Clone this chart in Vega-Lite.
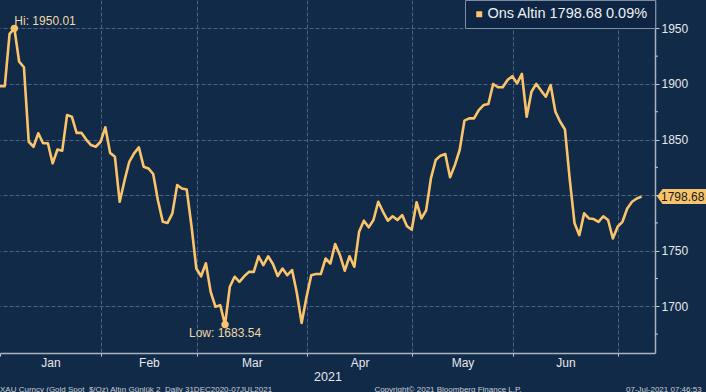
{
  "$schema": "https://vega.github.io/schema/vega-lite/v6.json",
  "width": 655,
  "height": 353,
  "autosize": {"type": "none"},
  "padding": {"left": 0, "top": 0, "right": 51, "bottom": 39},
  "background": "#102a48",
  "config": {"view": {"stroke": null}, "font": "Liberation Sans"},
  "title": {
    "text": "\u00a0XAU Curncy (Gold Spot \u00a0$/Oz) Altın Günlük 2 \u00a0Daily 31DEC2020-07JUL2021\u00a0\u00a0\u00a0\u00a0\u00a0\u00a0\u00a0\u00a0\u00a0\u00a0\u00a0\u00a0\u00a0\u00a0\u00a0\u00a0\u00a0\u00a0\u00a0\u00a0\u00a0\u00a0\u00a0\u00a0\u00a0\u00a0\u00a0\u00a0\u00a0\u00a0\u00a0\u00a0\u00a0\u00a0\u00a0\u00a0\u00a0\u00a0\u00a0\u00a0\u00a0\u00a0\u00a0\u00a0\u00a0\u00a0Copyright© 2021 Bloomberg Finance L.P.\u00a0\u00a0\u00a0\u00a0\u00a0\u00a0\u00a0\u00a0\u00a0\u00a0\u00a0\u00a0\u00a0\u00a0\u00a0\u00a0\u00a0\u00a0\u00a0\u00a0\u00a0\u00a0\u00a0\u00a0\u00a0\u00a0\u00a0\u00a0\u00a0\u00a0\u00a0\u00a0\u00a0\u00a0\u00a0\u00a0\u00a0\u00a0\u00a0\u00a0\u00a0\u00a0\u00a0\u00a0\u00a0\u00a0\u00a007-Jul-2021 07:46:53",
    "orient": "bottom",
    "anchor": "start",
    "frame": "group",
    "fontSize": 8,
    "fontWeight": "normal",
    "color": "#c9ced6",
    "font": "Liberation Sans",
    "offset": 3
  },
  "datasets": {
    "gold": [
      {"t": 0, "v": 1898}, {"t": 1, "v": 1898}, {"t": 2, "v": 1945}, {"t": 3, "v": 1950.01},
      {"t": 4, "v": 1920}, {"t": 5, "v": 1915}, {"t": 6, "v": 1848}, {"t": 7, "v": 1843.5},
      {"t": 8, "v": 1855.6}, {"t": 9, "v": 1846.6}, {"t": 10, "v": 1846.6}, {"t": 11, "v": 1828.6},
      {"t": 12, "v": 1841}, {"t": 13, "v": 1840}, {"t": 14, "v": 1872}, {"t": 15, "v": 1870.5},
      {"t": 16, "v": 1856}, {"t": 17, "v": 1856}, {"t": 18, "v": 1850}, {"t": 19, "v": 1845},
      {"t": 20, "v": 1843.5}, {"t": 21, "v": 1848}, {"t": 22, "v": 1861}, {"t": 23, "v": 1838},
      {"t": 24, "v": 1834.5}, {"t": 25, "v": 1794}, {"t": 26, "v": 1813}, {"t": 27, "v": 1830},
      {"t": 28, "v": 1837.6}, {"t": 29, "v": 1843}, {"t": 30, "v": 1825.6}, {"t": 31, "v": 1824},
      {"t": 32, "v": 1819}, {"t": 33, "v": 1795}, {"t": 34, "v": 1776}, {"t": 35, "v": 1775},
      {"t": 36, "v": 1783.6}, {"t": 37, "v": 1809}, {"t": 38, "v": 1806}, {"t": 39, "v": 1805},
      {"t": 40, "v": 1772}, {"t": 41, "v": 1734}, {"t": 42, "v": 1727}, {"t": 43, "v": 1738.7},
      {"t": 44, "v": 1713}, {"t": 45, "v": 1699.6}, {"t": 46, "v": 1701}, {"t": 47, "v": 1683.54},
      {"t": 48, "v": 1717.6}, {"t": 49, "v": 1726.6}, {"t": 50, "v": 1722}, {"t": 51, "v": 1727},
      {"t": 52, "v": 1731}, {"t": 53, "v": 1731}, {"t": 54, "v": 1745}, {"t": 55, "v": 1737},
      {"t": 56, "v": 1745}, {"t": 57, "v": 1738}, {"t": 58, "v": 1727.3}, {"t": 59, "v": 1734},
      {"t": 60, "v": 1728}, {"t": 61, "v": 1732.6}, {"t": 62, "v": 1712}, {"t": 63, "v": 1685},
      {"t": 64, "v": 1708}, {"t": 65, "v": 1728}, {"t": 66, "v": 1729}, {"t": 67, "v": 1729},
      {"t": 68, "v": 1743}, {"t": 69, "v": 1738.5}, {"t": 70, "v": 1756}, {"t": 71, "v": 1746},
      {"t": 72, "v": 1732}, {"t": 73, "v": 1745}, {"t": 74, "v": 1735.6}, {"t": 75, "v": 1767},
      {"t": 76, "v": 1777}, {"t": 77, "v": 1771}, {"t": 78, "v": 1777.6}, {"t": 79, "v": 1794},
      {"t": 80, "v": 1785}, {"t": 81, "v": 1777}, {"t": 82, "v": 1781}, {"t": 83, "v": 1777.6},
      {"t": 84, "v": 1782}, {"t": 85, "v": 1772}, {"t": 86, "v": 1769}, {"t": 87, "v": 1793.6},
      {"t": 88, "v": 1779}, {"t": 89, "v": 1786.3}, {"t": 90, "v": 1815}, {"t": 91, "v": 1831.6},
      {"t": 92, "v": 1835.5}, {"t": 93, "v": 1837}, {"t": 94, "v": 1816}, {"t": 95, "v": 1827},
      {"t": 96, "v": 1840.6}, {"t": 97, "v": 1867}, {"t": 98, "v": 1869}, {"t": 99, "v": 1869},
      {"t": 100, "v": 1876.5}, {"t": 101, "v": 1881}, {"t": 102, "v": 1882}, {"t": 103, "v": 1900},
      {"t": 104, "v": 1897}, {"t": 105, "v": 1897}, {"t": 106, "v": 1903.5}, {"t": 107, "v": 1907},
      {"t": 108, "v": 1900.5}, {"t": 109, "v": 1909}, {"t": 110, "v": 1870.5}, {"t": 111, "v": 1893},
      {"t": 112, "v": 1900}, {"t": 113, "v": 1894}, {"t": 114, "v": 1888.5}, {"t": 115, "v": 1899},
      {"t": 116, "v": 1875}, {"t": 117, "v": 1866}, {"t": 118, "v": 1859}, {"t": 119, "v": 1814},
      {"t": 120, "v": 1774.6}, {"t": 121, "v": 1764}, {"t": 122, "v": 1783.6}, {"t": 123, "v": 1779},
      {"t": 124, "v": 1778.5}, {"t": 125, "v": 1776}, {"t": 126, "v": 1781}, {"t": 127, "v": 1777.6},
      {"t": 128, "v": 1761}, {"t": 129, "v": 1771.6}, {"t": 130, "v": 1776}, {"t": 131, "v": 1788},
      {"t": 132, "v": 1794}, {"t": 133, "v": 1797}, {"t": 134, "v": 1798.68}
    ],
    "extremes": [
      {"t": 3, "v": 1950.01, "kind": "hi", "label": "Hi: 1950.01"},
      {"t": 47, "v": 1683.54, "kind": "low", "label": "Low: 1683.54"}
    ],
    "last": [
      {"t": 136.8, "v": 1798.68, "label": "1798.68"}
    ],
    "minor": [
      {"t": 136.8, "v": 1675}, {"t": 136.8, "v": 1725}, {"t": 136.8, "v": 1775},
      {"t": 136.8, "v": 1825}, {"t": 136.8, "v": 1875}, {"t": 136.8, "v": 1925}
    ]
  },
  "layer": [
    {
      "data": {"name": "gold"},
      "mark": {"type": "line", "color": "#fbc46a", "strokeWidth": 2.6, "strokeJoin": "round"},
      "encoding": {
        "x": {
          "field": "t", "type": "quantitative",
          "scale": {"domain": [0, 136.8], "nice": false, "zero": false},
          "axis": {
            "values": [0, 10.55, 21.1, 31.1, 41.15, 52.6, 64.1, 75.1, 86.1, 96.6, 107.2, 118.1, 129.1],
            "labelExpr": "datum.value == 10.55 ? 'Jan' : datum.value == 31.1 ? 'Feb' : datum.value == 52.6 ? 'Mar' : datum.value == 75.1 ? 'Apr' : datum.value == 96.6 ? 'May' : datum.value == 118.1 ? 'Jun' : ''",
            "labelFontSize": 12,
            "labelColor": "#e6e8eb",
            "labelPadding": 1,
            "labelFlush": false,
            "labelOverlap": false,
            "tickSize": 3,
            "tickColor": "#c8ccd2",
            "tickOpacity": {"condition": {"test": "indexof([0,21.1,41.15,64.1,86.1,107.2,129.1], datum.value) >= 0", "value": 1}, "value": 0},
            "grid": true,
            "gridColor": "#4a6384",
            "gridDash": [4, 2],
            "gridWidth": 1,
            "gridOpacity": {"condition": {"test": "indexof([21.1,41.15,64.1,86.1,107.2,129.1], datum.value) >= 0", "value": 1}, "value": 0},
            "domainColor": "#aab2bc",
            "domainWidth": 1.5,
            "title": "2021",
            "titleFontSize": 12.5,
            "titleFontWeight": "normal",
            "titleColor": "#e6e8eb",
            "titlePadding": 2
          }
        },
        "y": {
          "field": "v", "type": "quantitative",
          "scale": {"domain": [1658, 1975.5], "nice": false, "zero": false},
          "axis": {
            "orient": "right",
            "values": [1700, 1750, 1800, 1850, 1900, 1950],
            "labelExpr": "datum.value == 1800 ? '' : datum.label",
            "labelFontSize": 12,
            "labelColor": "#e6e8eb",
            "labelPadding": 2,
            "labelOverlap": false,
            "labelFlush": false,
            "format": "d",
            "tickSize": 4,
            "tickColor": "#c8ccd2",
            "grid": true,
            "gridColor": "#4a6384",
            "gridDash": [4, 2],
            "gridWidth": 1,
            "domainColor": "#aab2bc",
            "domainWidth": 1.5,
            "title": null
          }
        }
      }
    },
    {
      "data": {"name": "minor"},
      "mark": {"type": "tick", "orient": "horizontal", "size": 3, "thickness": 1, "xOffset": 1.5, "color": "#c8ccd2", "opacity": 1, "clip": false},
      "encoding": {
        "x": {"field": "t", "type": "quantitative"},
        "y": {"field": "v", "type": "quantitative"}
      }
    },
    {
      "data": {"name": "extremes"},
      "mark": {"type": "point", "filled": true, "size": 55, "opacity": 1},
      "encoding": {
        "x": {"field": "t", "type": "quantitative"},
        "y": {"field": "v", "type": "quantitative"},
        "color": {
          "datum": "Ons Altin 1798.68 0.09%",
          "scale": {"range": ["#fbc46a"]},
          "legend": {
            "orient": "top-right",
            "offset": 0,
            "title": null,
            "padding": 7,
            "symbolType": "square",
            "symbolSize": 36,
            "symbolOpacity": 1,
            "labelFontSize": 14.5,
            "labelFont": "Liberation Sans",
            "labelColor": "#eef0f2",
            "labelOffset": 1,
            "labelLimit": 400,
            "fillColor": "#0e2643",
            "strokeColor": "#7d8da3"
          }
        }
      }
    },
    {
      "data": {"name": "extremes"},
      "transform": [{"filter": "datum.kind == 'hi'"}],
      "mark": {"type": "text", "align": "left", "baseline": "alphabetic", "dx": 0, "dy": -3, "fontSize": 12, "color": "#eed9a6"},
      "encoding": {
        "x": {"field": "t", "type": "quantitative"},
        "y": {"field": "v", "type": "quantitative"},
        "text": {"field": "label"}
      }
    },
    {
      "data": {"name": "extremes"},
      "transform": [{"filter": "datum.kind == 'low'"}],
      "mark": {"type": "text", "align": "center", "baseline": "alphabetic", "dx": 0, "dy": 12, "fontSize": 12, "color": "#eed9a6"},
      "encoding": {
        "x": {"field": "t", "type": "quantitative"},
        "y": {"field": "v", "type": "quantitative"},
        "text": {"field": "label"}
      }
    },
    {
      "data": {"name": "last"},
      "mark": {"type": "point", "filled": true, "size": 400, "opacity": 1, "color": "#f7c46c", "strokeWidth": 0, "clip": false,
        "shape": "M0.2,0 L0.75,-0.75 L5.3,-0.75 L5.3,0.75 L0.75,0.75 Z"},
      "encoding": {
        "x": {"field": "t", "type": "quantitative"},
        "y": {"field": "v", "type": "quantitative"}
      }
    },
    {
      "data": {"name": "last"},
      "mark": {"type": "text", "align": "left", "baseline": "middle", "dx": 6, "dy": 0.5, "fontSize": 12, "color": "#1b1b1b"},
      "encoding": {
        "x": {"field": "t", "type": "quantitative"},
        "y": {"field": "v", "type": "quantitative"},
        "text": {"field": "label"}
      }
    }
  ]
}
